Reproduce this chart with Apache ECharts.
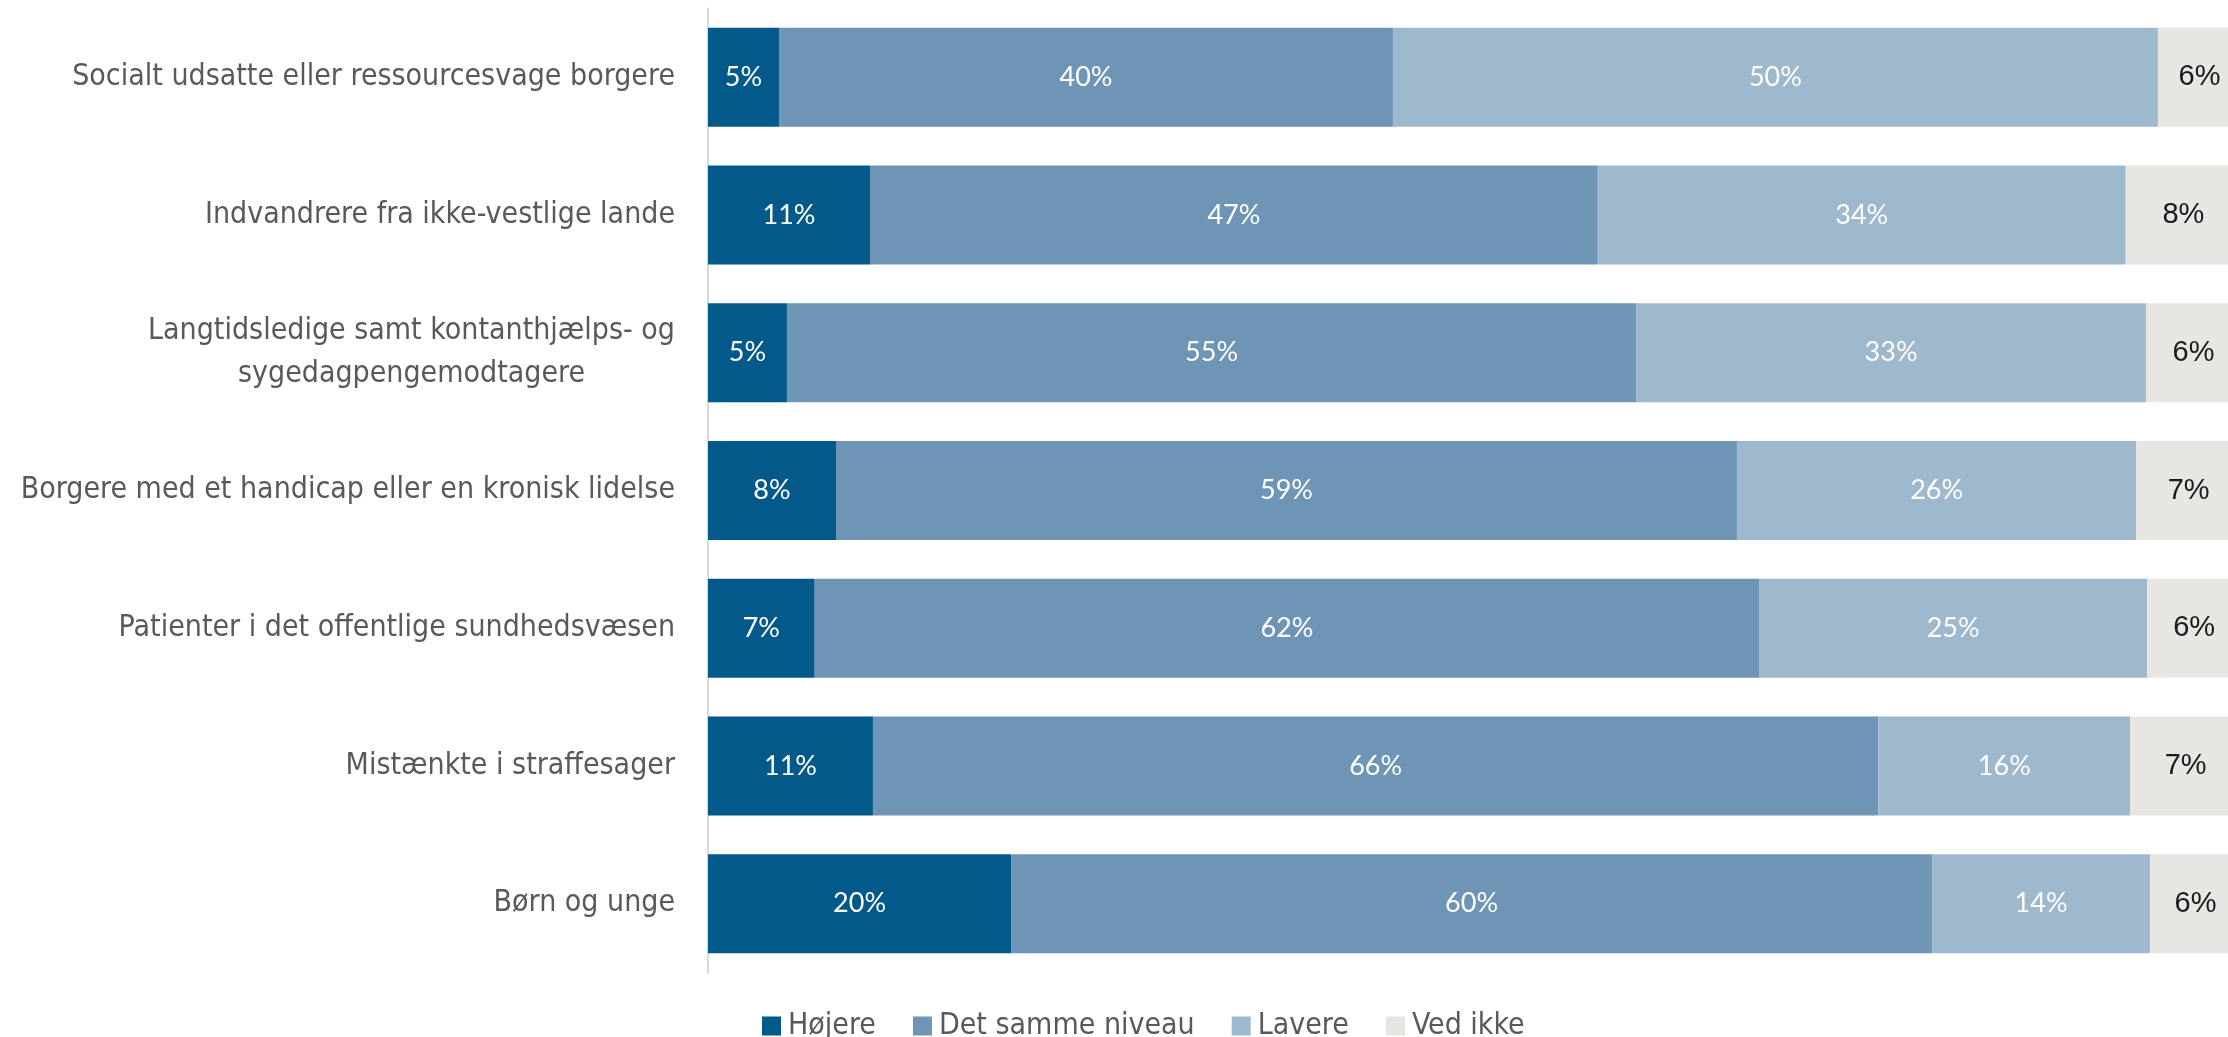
<!DOCTYPE html>
<html lang="da" style="height: 100%">
<head>
    <meta charset="UTF-8">
    <title>Forventning</title>
    <script type="text/javascript" src="https://cdn.jsdelivr.net/npm/echarts@6/dist/echarts.min.js"></script>
</head>
<body style="height: 100%;margin: 0;background:#fff">

<div id="contar" style="width: 2228px;height: 1037px"></div>

<script type="text/javascript">
    // kategorier (oppefra og ned)
    var kategorier = [
        'Socialt udsatte eller ressourcesvage borgere',
        'Indvandrere fra ikke-vestlige lande',
        'Langtidsledige samt kontanthjælps- og\nsygedagpengemodtagere',
        'Borgere med et handicap eller en kronisk lidelse',
        'Patienter i det offentlige sundhedsvæsen',
        'Mistænkte i straffesager',
        'Børn og unge'
    ];
    var serieNavne = ['Højere', 'Det samme niveau', 'Lavere', 'Ved ikke'];

    // andele i procent
    var hojere = [4.63, 10.57, 5.15, 8.35, 6.96, 10.76, 19.77];
    var sammeNiveau = [40.05, 47.47, 55.40, 58.77, 61.60, 65.58, 60.08];
    var lavere = [49.90, 34.44, 33.25, 26.05, 25.33, 16.44, 14.22];
    var vedIkke = [5.50, 7.52, 6.20, 6.83, 6.11, 7.22, 5.93];

    var farver = ['#03598a', '#6e95b5', '#9eb9cd', '#e8e6e3'];
    var narrow = "'Liberation Sans Narrow', 'DejaVu Sans Condensed', sans-serif";

    function lavSerie(navn, data, idx) {
        var morkTekst = idx === 3;
        return {
            name: navn,
            type: 'bar',
            stack: 'total',
            barWidth: 99,
            data: data,
            itemStyle: {color: farver[idx]},
            label: {
                show: true,
                position: 'inside',
                color: morkTekst ? '#1a1a1a' : '#ffffff',
                fontFamily: morkTekst ? "'Liberation Sans', Arial, sans-serif" : 'Lato',
                fontSize: morkTekst ? 29 : 27,
                formatter: function (p) {
                    return Math.round(p.value) + '%';
                }
            },
            emphasis: {disabled: true}
        };
    }

    var chart = echarts.init(document.getElementById('contar'));
    var option = {
        animation: false,
        color: farver,
        grid: {
            left: 708,
            top: 8.5,
            width: 1533,
            height: 964,
            outerBoundsMode: 'none'
        },
        legend: {
            data: serieNavne,
            left: 757,
            top: 1006,
            icon: 'rect',
            itemWidth: 19,
            itemHeight: 19,
            itemGap: 37,
            textStyle: {
                fontFamily: narrow,
                fontSize: 30,
                color: '#595959',
                padding: [0, 0, 0, 2]
            }
        },
        xAxis: {
            type: 'value',
            min: 0,
            max: 100,
            show: false
        },
        yAxis: {
            type: 'category',
            inverse: true,
            data: kategorier,
            axisLine: {show: true, lineStyle: {color: '#d9d9d9', width: 2}},
            axisTick: {show: false},
            axisLabel: {
                margin: 33,
                fontFamily: narrow,
                fontSize: 30,
                color: '#595959',
                lineHeight: 43,
                formatter: function (v) {
                    return v.split('\n').map(function (l) {
                        return '{c|' + l + '}';
                    }).join('\n');
                },
                rich: {
                    c: {
                        align: 'center',
                        fontFamily: narrow,
                        fontSize: 30,
                        color: '#595959',
                        lineHeight: 43
                    }
                }
            }
        },
        series: [
            lavSerie(serieNavne[0], hojere, 0),
            lavSerie(serieNavne[1], sammeNiveau, 1),
            lavSerie(serieNavne[2], lavere, 2),
            lavSerie(serieNavne[3], vedIkke, 3)
        ]
    };
    chart.setOption(option);
</script>

</body>
</html>
